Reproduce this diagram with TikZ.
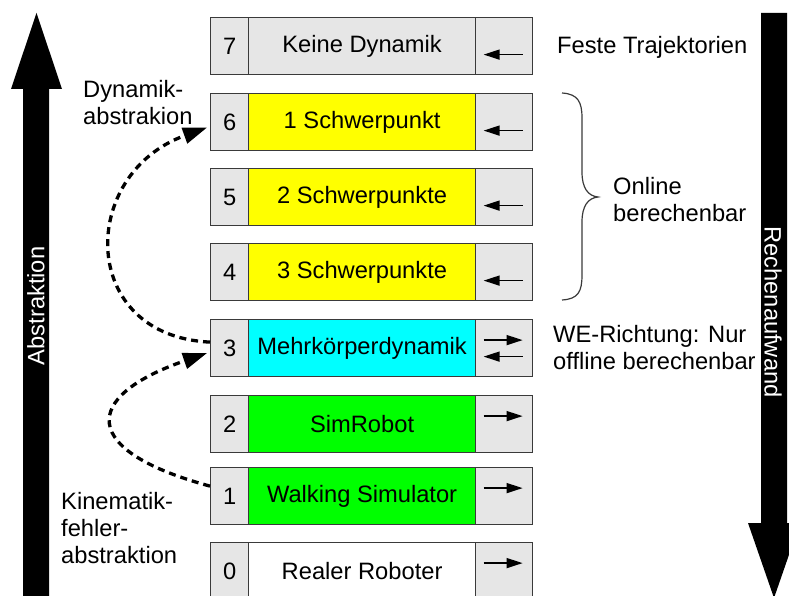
\documentclass[tikz,border=0pt]{standalone}
\usepackage{fontspec}
\setmainfont{Liberation Sans}
\usetikzlibrary{arrows.meta,calc}
\definecolor{cellgray}{HTML}{E6E6E6}
\definecolor{edgecol}{HTML}{3A3A3A}
\definecolor{cyanfill}{HTML}{00FFFF}
\definecolor{greenfill}{HTML}{00FF00}
\definecolor{yellowfill}{HTML}{FFFF00}
\begin{document}
\begin{tikzpicture}[x=1pt,y=-1pt,
  cell/.style={draw=edgecol,line width=1.2pt,minimum height=57pt,inner sep=0pt,anchor=north west,font=\fontsize{23.7}{27}\selectfont},
  numcell/.style={cell,fill=cellgray,minimum width=38pt},
  maincell/.style={cell,minimum width=227pt},
  arrcell/.style={cell,fill=cellgray,minimum width=57pt},
  lbl/.style={font=\fontsize{23.7}{27}\selectfont,inner sep=0pt,align=left,anchor=west},
  vlbl/.style={font=\fontsize{23.7}{27}\selectfont,inner sep=0pt,text=white},
  dyn/.style={line width=3.3pt,dash pattern=on 7pt off 5pt,-{Triangle[length=24pt,width=16pt]}},
  smallarr/.style={line width=1.4pt,-{Triangle[length=16pt,width=10pt]}}]
\useasboundingbox (0,0) rectangle (789,596);
\clip (0,0) rectangle (789,596);

% big arrows
\fill[black] (23,600) -- (23,89) -- (11,89) -- (36.5,13) -- (62,89) -- (49,89) -- (49,600) -- cycle;
\fill[black] (761,13) -- (787,13) -- (787,523) -- (800,523) -- (774,598) -- (748,523) -- (761,523) -- cycle;
\node[vlbl,rotate=90] (abs) at (36,306) {Abstraktion};
\node[vlbl,rotate=-90] (rech) at (773,312) {Rechenaufwand};

% rows
\foreach \i/\t/\txt/\c in {7/17/Keine Dynamik/cellgray,6/93/1 Schwerpunkt/yellowfill,5/168/2 Schwerpunkte/yellowfill,4/243/3 Schwerpunkte/yellowfill,3/319/Mehrkörperdynamik/cyanfill,2/395/SimRobot/greenfill,1/467/Walking Simulator/greenfill,0/542/Realer Roboter/white}{
  \node[numcell] (n\i) at (210,\t) {\i};
  \node[maincell,fill=\c] (m\i) at (248,\t) {\txt};
  \node[arrcell] (a\i) at (475,\t) {};
}
\foreach \i in {7,6,5,4,3}{
  \draw[smallarr] ($(a\i.center)+(18.5,8.5)$) -- ($(a\i.center)+(-20.5,8.5)$);
}
\foreach \i in {3,2,1,0}{
  \draw[smallarr] ($(a\i.center)+(-20.5,-8)$) -- ($(a\i.center)+(18.5,-8)$);
}

% dashed curved arrows
\draw[dyn] ($(n3.west)+(0,-6)$) .. controls (78,336) and (78,174) .. ($(n6.west)+(-3,5.5)$);
\draw[dyn] ($(n1.west)+(0,-10)$) .. controls (80,451) and (80,397) .. ($(n3.west)+(-3,5)$);

% brace
\draw[edgecol,line width=1.2pt] (562,93) .. controls (578,94) and (582,102) .. (582,118) -- (582,172) .. controls (582,188) and (588,196) .. (598,197) .. controls (588,198) and (582,206) .. (582,222) -- (582,275) .. controls (582,292) and (578,299) .. (562,300);

% labels
\node[lbl] (feste) at (557,47) {Feste Trajektorien};
\node[lbl] (online) at (613,200) {Online\\berechenbar};
\node[lbl] (we) at (553,348) {WE-Richtung: Nur\\offline berechenbar};
\node[lbl] (dynl) at (83,103) {Dynamik-\\abstrakion};
\node[lbl] (kinl) at (61,528) {Kinematik-\\fehler-\\abstraktion};
\end{tikzpicture}
\end{document}
